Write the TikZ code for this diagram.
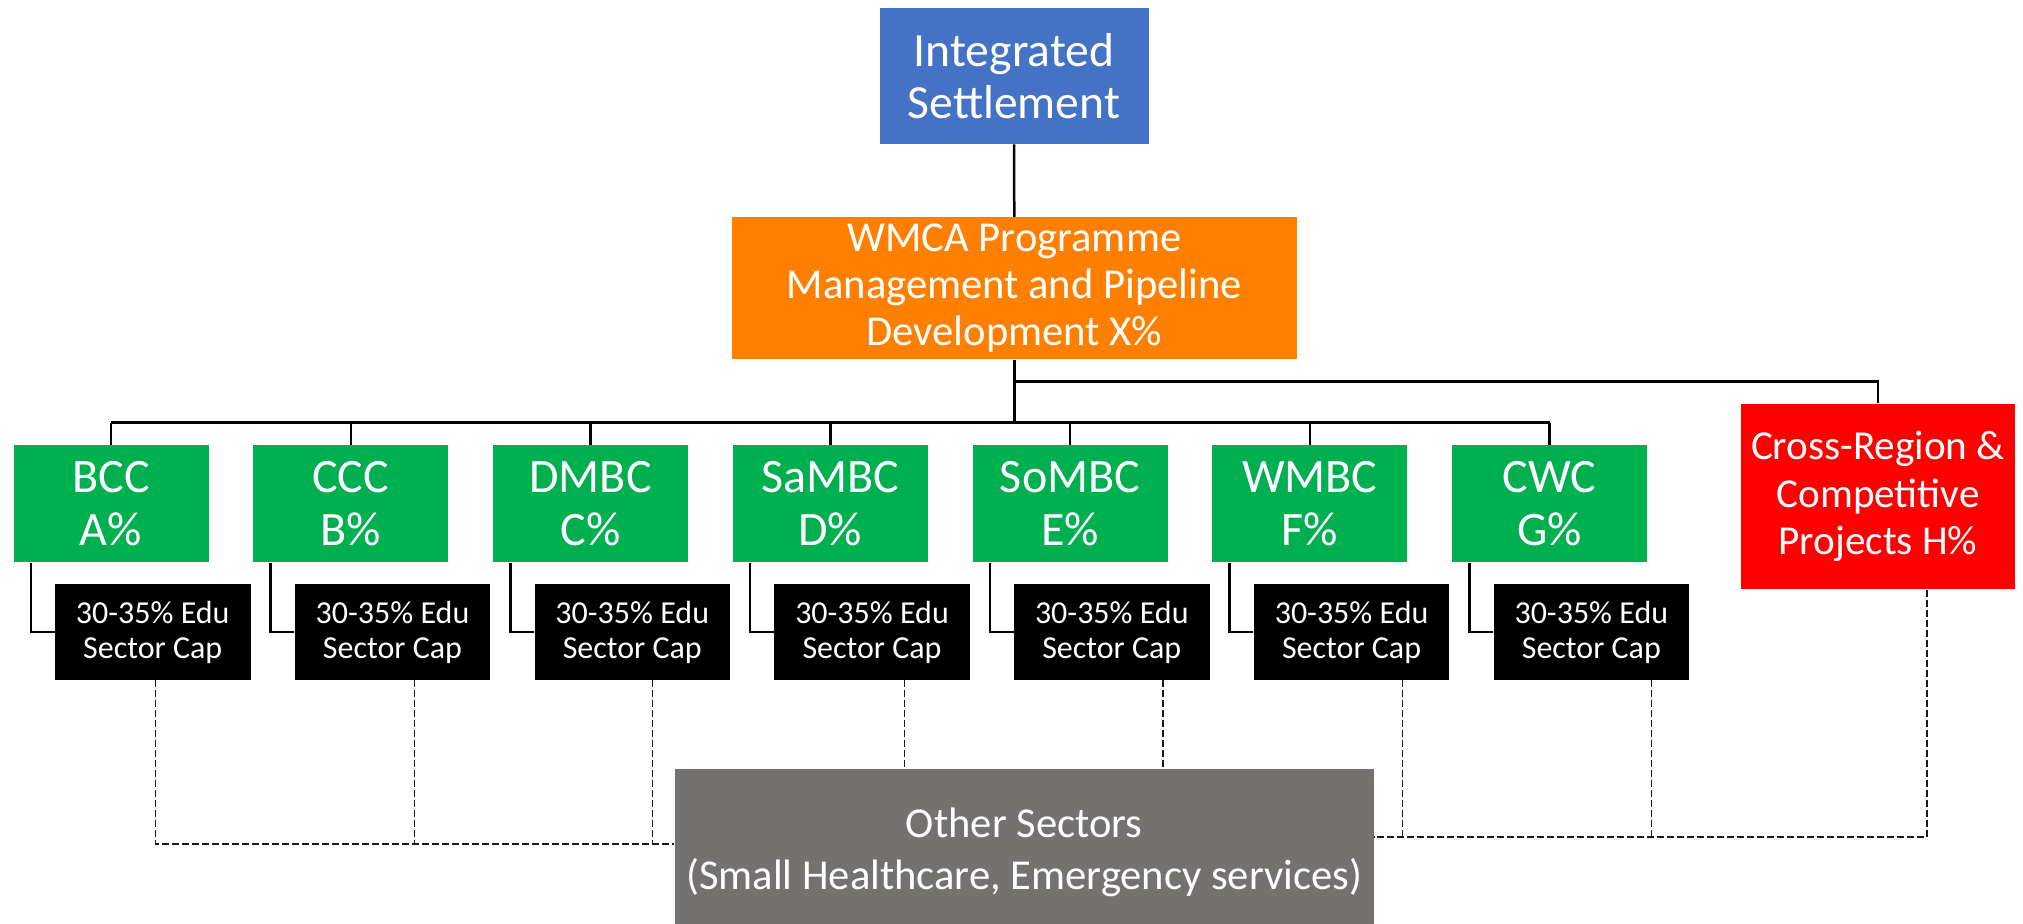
\documentclass[tikz,border=0pt]{standalone}
\usepackage{fontspec}
\setmainfont{Carlito}
\definecolor{cblue}{HTML}{4472C4}
\definecolor{corange}{HTML}{FF8000}
\definecolor{cgreen}{HTML}{00B050}
\definecolor{cred}{HTML}{FF0000}
\definecolor{cgrey}{HTML}{767171}
\tikzset{
  box/.style={draw=none, inner sep=0pt, align=center, text=white, anchor=center},
  bluebox/.style={box, fill=cblue, minimum width=134.5pt, minimum height=68pt, font=\fontsize{23.8}{26}\selectfont},
  orangebox/.style={box, fill=corange, minimum width=282.5pt, minimum height=71pt, font=\fontsize{21.3}{23.5}\selectfont},
  greenbox/.style={box, fill=cgreen, minimum width=97.5pt, minimum height=58.5pt, font=\fontsize{24}{26.3}\selectfont},
  capbox/.style={box, fill=black, minimum width=97.75pt, minimum height=48pt, font=\fontsize{16}{17.5}\selectfont},
  redbox/.style={box, fill=cred, minimum width=137pt, minimum height=92.8pt, font=\fontsize{20.6}{23.6}\selectfont},
  greybox/.style={box, fill=cgrey, minimum width=349.6pt, minimum height=83.35pt, font=\fontsize{21.3}{26}\selectfont},
  conn/.style={draw=black, line width=1.25pt},
  dline/.style={draw=black!90, line width=0.6pt, dash pattern=on 3.5pt off 1.5pt}
}
\begin{document}
\begin{tikzpicture}[x=0.5pt,y=-0.5pt]
\useasboundingbox (0,0) rectangle (2023,924);

\node[bluebox] (top) at (1014,76) {Integrated\\Settlement};
\node[orangebox] (wmca) at (1014.3,288.3) {WMCA Programme\\Management and Pipeline\\Development X\%};

\node[greenbox] (g1) at (111,503.8) {BCC\\A\%};
\node[greenbox] (g2) at (350.76,503.8) {CCC\\B\%};
\node[greenbox] (g3) at (590.52,503.8) {DMBC\\C\%};
\node[greenbox] (g4) at (830.28,503.8) {SaMBC\\D\%};
\node[greenbox] (g5) at (1070.04,503.8) {SoMBC\\E\%};
\node[greenbox] (g6) at (1309.8,503.8) {WMBC\\F\%};
\node[greenbox] (g7) at (1549.56,503.8) {CWC\\G\%};

\node[redbox] (red) at (1878,496.5) {Cross-Region \&\\Competitive\\Projects H\%};

\node[capbox] (k1) at (152.75,632) {30-35\% Edu\\Sector Cap};
\node[capbox] (k2) at (392.51,632) {30-35\% Edu\\Sector Cap};
\node[capbox] (k3) at (632.27,632) {30-35\% Edu\\Sector Cap};
\node[capbox] (k4) at (872.03,632) {30-35\% Edu\\Sector Cap};
\node[capbox] (k5) at (1111.79,632) {30-35\% Edu\\Sector Cap};
\node[capbox] (k6) at (1351.55,632) {30-35\% Edu\\Sector Cap};
\node[capbox] (k7) at (1591.31,632) {30-35\% Edu\\Sector Cap};

% box runs past the page bottom (cut off there), so its text sits a little low as in the original
\node[greybox] (grey) at (1024.2,852.7) {Other Sectors\\(Small Healthcare, Emergency services)};

% solid connectors
\draw[conn] (top.south) -- (wmca.north);
\coordinate (bus) at (1014.3,422.7);
\coordinate (br) at (1014.3,381.7);
\draw[conn] (wmca.south) -- (bus);
\draw[conn] (g1.north |- bus) -- (g7.north |- bus);
\foreach \i in {1,...,7}{
  \draw[conn] (g\i.north) -- (g\i.north |- bus);
  \draw[conn] ([xshift=8.9pt]g\i.south west) |- (k\i.west);
}
\draw[conn] (br) -| (red.north);

% dashed connectors
\path ([xshift=1.3pt]k1.south) coordinate (d1)
      ([xshift=11.1pt]k2.south) coordinate (d2)
      ([xshift=10.2pt]k3.south) coordinate (d3)
      ([xshift=16.25pt]k4.south) coordinate (d4)
      ([xshift=25.6pt]k5.south) coordinate (d5)
      ([xshift=25.45pt]k6.south) coordinate (d6)
      ([xshift=30pt]k7.south) coordinate (d7)
      ([xshift=24.5pt]red.south) coordinate (dr);
\coordinate (jl) at (0,844);
\coordinate (jr) at (0,837);
\draw[dline] (d1) |- (grey.west |- jl);
\draw[dline] (d2) -- (d2 |- jl);
\draw[dline] (d3) -- (d3 |- jl);
\draw[dline] (d4) -- (d4 |- grey.north);
\draw[dline] (d5) -- (d5 |- grey.north);
\draw[dline] (d6) -- (d6 |- jr);
\draw[dline] (d7) -- (d7 |- jr);
\draw[dline] (dr) |- (grey.east |- jr);
\end{tikzpicture}
\end{document}
